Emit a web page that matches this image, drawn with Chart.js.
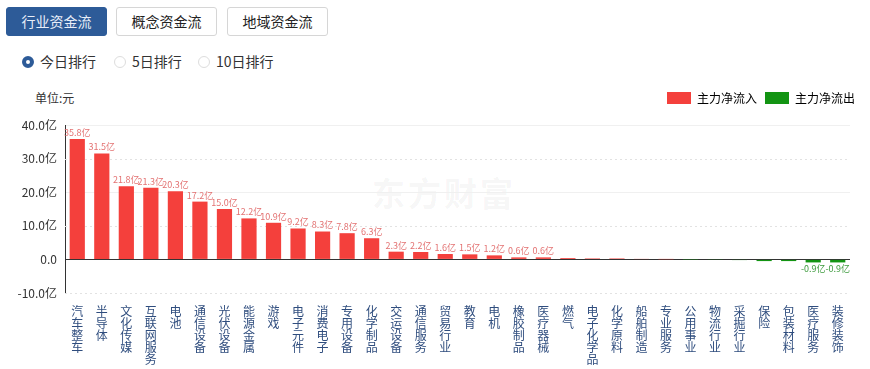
<!DOCTYPE html>
<html lang="zh">
<head>
  <meta charset="UTF-8">
  <title>行业资金流</title>
  <script src="https://cdn.jsdelivr.net/npm/chart.js"></script>
  <style>
    body { margin: 0; width: 870px; height: 369px; background: #fff; font-family: "Noto Sans CJK SC", "Noto Sans", sans-serif; color: #333; position: relative; overflow: hidden; }
    .tabs { position: absolute; left: 6px; top: 7px; }
    .tabs span { position: absolute; top: 0; width: 99px; height: 27px; line-height: 27px; text-align: center; font-size: 14px; border: 1px solid #d6d6d6; border-radius: 3px; background: #fff; color: #222; }
    .tabs span.on { background: #2d5b98; border-color: #2d5b98; color: #e8eef8; }
    .radios { position: absolute; left: 22px; top: 51px; font-size: 14px; }
    .radios label { position: absolute; top: 0; white-space: nowrap; line-height: 20px; }
    .radios i { display: inline-block; width: 10px; height: 10px; border-radius: 50%; border: 1px solid #ddd; vertical-align: -1px; margin-right: 6px; box-sizing: content-box; }
    .radios i.on { width: 4px; height: 4px; border: 4px solid #2d5b98; }
    #unit { position: absolute; left: 35px; top: 89px; font-size: 12px; color: #333; }
    #mark { position: absolute; left: 372px; top: 168px; font-size: 33px; font-weight: bold; color: rgba(0,0,0,0.05); letter-spacing: 3px; }
    #wrap { position: absolute; left: 0; top: 80px; width: 870px; height: 295px; }
  </style>
</head>
<body>
  <div class="tabs">
    <span class="on" style="left:0">行业资金流</span>
    <span style="left:110px">概念资金流</span>
    <span style="left:221px">地域资金流</span>
  </div>
  <div class="radios">
    <label style="left:0"><i class="on"></i>今日排行</label>
    <label style="left:92px"><i></i>5日排行</label>
    <label style="left:176px"><i></i>10日排行</label>
  </div>
  <div id="unit">单位:元</div>
  <div id="mark">东方财富</div>
  <div id="wrap"><canvas id="flowChart" width="870" height="295"></canvas></div>

  <script>
    // industry names and main net inflow (亿元)
    const industries = [
      "汽车整车", "半导体", "文化传媒", "互联网服务", "电池", "通信设备", "光伏设备", "能源金属",
      "游戏", "电子元件", "消费电子", "专用设备", "化学制品", "交运设备", "通信服务", "贸易行业",
      "教育", "电机", "橡胶制品", "医疗器械", "燃气", "电子化学品", "化学原料", "船舶制造",
      "专业服务", "公用事业", "物流行业", "采掘行业", "保险", "包装材料", "医疗服务", "装修装饰"
    ];
    const netFlow = [
      35.8, 31.5, 21.8, 21.3, 20.3, 17.2, 15.0, 12.2,
      10.9, 9.2, 8.3, 7.8, 6.3, 2.3, 2.2, 1.6,
      1.5, 1.2, 0.6, 0.6, 0.4, 0.3, 0.3, 0.1,
      0.05, -0.05, -0.1, -0.2, -0.5, -0.5, -0.9, -0.9
    ];
    const yTicks = [-10, 0, 10, 20, 30, 40];
    const legendNames = ["主力净流入", "主力净流出"];

    const RED = '#f4403c';
    const GREEN = '#139413';

    // extra room under the legend
    const legendGap = {
      id: 'legendGap',
      beforeInit(chart) {
        const fit = chart.legend.fit;
        chart.legend.fit = function () {
          fit.bind(chart.legend)();
          this.height += 11;
        };
      }
    };

    // dotted grid lines on 30, 10, -10
    const dottedGrid = {
      id: 'dottedGrid',
      beforeDatasetsDraw(chart) {
        const y = chart.scales.y, area = chart.chartArea, c = chart.ctx;
        c.save();
        c.strokeStyle = '#e2e2e2';
        c.lineWidth = 1;
        c.setLineDash([2, 3]);
        [30, 10, -10].forEach(v => {
          const py = Math.round(y.getPixelForValue(v)) + 0.5;
          c.beginPath();
          c.moveTo(area.left, py);
          c.lineTo(area.right, py);
          c.stroke();
        });
        c.restore();
      }
    };

    // value labels above / below bars
    const valueLabels = {
      id: 'valueLabels',
      afterDatasetsDraw(chart) {
        const c = chart.ctx;
        const meta = chart.getDatasetMeta(0);
        c.save();
        c.font = '9px "Noto Sans CJK SC", sans-serif';
        c.textAlign = 'center';
        meta.data.forEach((bar, i) => {
          const v = netFlow[i];
          if (Math.abs(v) < 0.55) return;
          const txt = v.toFixed(1) + '亿';
          if (v > 0) {
            c.fillStyle = '#e37272';
            c.textBaseline = 'bottom';
            c.fillText(txt, bar.x, bar.y - 2);
          } else {
            c.fillStyle = '#3c9a3c';
            c.textBaseline = 'top';
            c.fillText(txt, bar.x, bar.y + 2);
          }
        });
        c.restore();
      }
    };

    new Chart(document.getElementById('flowChart'), {
      type: 'bar',
      data: {
        labels: industries.map(s => s.split('')),
        datasets: [{
          data: netFlow,
          backgroundColor: netFlow.map(v => v >= 0 ? RED : GREEN),
          categoryPercentage: 0.62,
          barPercentage: 1
        }]
      },
      options: {
        responsive: false,
        devicePixelRatio: 1,
        animation: false,
        layout: { padding: { top: 4, right: 7, bottom: 6, left: 0 } },
        plugins: {
          tooltip: { enabled: false },
          legend: {
            position: 'top',
            align: 'end',
            labels: {
              boxWidth: 24,
              boxHeight: 12,
              useBorderRadius: true,
              borderRadius: 3,
              padding: 8,
              color: '#333',
              font: { size: 12, family: '"Noto Sans CJK SC", sans-serif' },
              generateLabels: () => [
                { text: legendNames[0], fillStyle: RED, strokeStyle: RED, lineWidth: 0 },
                { text: legendNames[1], fillStyle: GREEN, strokeStyle: GREEN, lineWidth: 0 }
              ]
            }
          }
        },
        scales: {
          x: {
            grid: { display: false },
            border: { display: false },
            ticks: {
              autoSkip: false,
              maxRotation: 0,
              minRotation: 0,
              padding: 4,
              color: '#2f4d7e',
              font: { size: 12, lineHeight: 1.0, family: '"Noto Sans CJK SC", sans-serif' }
            }
          },
          y: {
            min: -10,
            max: 40,
            afterBuildTicks: s => { s.ticks = yTicks.map(v => ({ value: v })); },
            afterFit: s => { s.width = 65; },
            border: { display: true, color: '#333' },
            grid: {
              drawTicks: false,
              color: ctx => {
                const v = ctx.tick.value;
                if (v === 0) return '#333';
                if (v === 40 || v === 20) return '#f0f0f0';
                return 'rgba(0,0,0,0)';
              }
            },
            ticks: {
              padding: 8,
              color: '#333',
              font: { size: 12, family: '"Noto Sans CJK SC", sans-serif' },
              callback: v => v === 0 ? '0.0' : v.toFixed(1) + '亿'
            }
          },
          // empty right-hand axis, only keeps the plot 13px short of the legend edge
          yRight: {
            position: 'right',
            display: true,
            grid: { display: false },
            border: { display: false },
            ticks: { display: false },
            afterFit: s => { s.width = 13; }
          }
        }
      },
      plugins: [legendGap, dottedGrid, valueLabels]
    });
  </script>
</body>
</html>
